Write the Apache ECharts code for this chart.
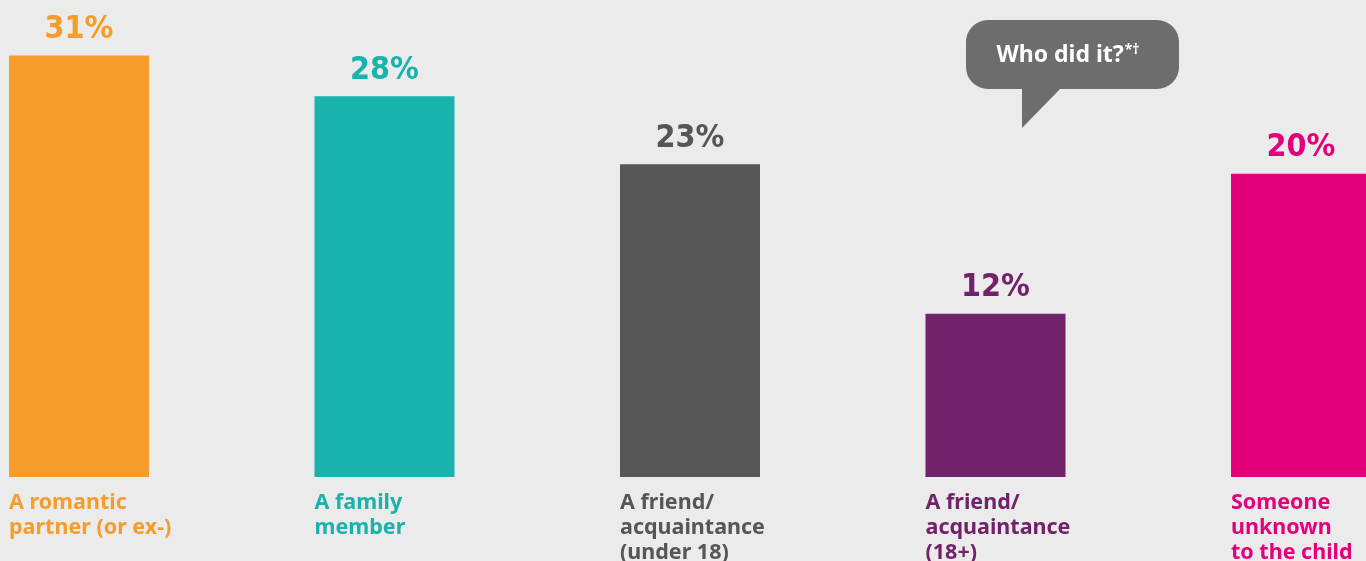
<!DOCTYPE html>
<html>
<head>
<meta charset="utf-8">
<script src="https://cdn.jsdelivr.net/npm/echarts@6/dist/echarts.min.js"></script>
<style>
  html, body { margin: 0; padding: 0; background: #ebebeb; }
  #bar-chart { width: 1366px; height: 561px; }
</style>
</head>
<body>
<div id="bar-chart"></div>
<script>
// categories and values
var categories = [
  'A romantic\npartner (or ex-)',
  'A family\nmember',
  'A friend/\nacquaintance\n(under 18)',
  'A friend/\nacquaintance\n(18+)',
  'Someone\nunknown\nto the child'
];
// bar heights as drawn (the last bar is drawn taller than its 20% label)
var barValues = [31, 28, 23, 12, 22.3];
var valueLabels = ['31%', '28%', '23%', '12%', '20%'];
var barColors = ['#f59d2a', '#17b3ac', '#565656', '#72216b', '#e3007a'];

var chart = echarts.init(document.getElementById('bar-chart'));

var option = {
  backgroundColor: '#ebebeb',
  animation: false,
  grid: {
    left: 79,
    right: 65,
    top: 1,
    bottom: 84
  },
  xAxis: {
    type: 'category',
    data: categories,
    boundaryGap: false,
    axisLine: { show: false },
    axisTick: { show: false },
    axisLabel: { show: false }
  },
  yAxis: {
    type: 'value',
    min: 0,
    max: 35,
    show: false,
    splitLine: { show: false }
  },
  series: [
    {
      // the bars with percent on top
      type: 'bar',
      barWidth: 140,
      data: barValues.map(function (v, i) {
        return {
          value: v,
          itemStyle: { color: barColors[i] },
          label: { color: barColors[i] }
        };
      }),
      label: {
        show: true,
        position: 'top',
        distance: 10,
        fontFamily: '"DejaVu Sans Condensed", "Liberation Sans Narrow", sans-serif',
        fontWeight: 'bold',
        fontSize: 32,
        formatter: function (p) { return valueLabels[p.dataIndex]; }
      }
    },
    {
      // transparent copy, only to put the category names under each bar
      type: 'bar',
      barWidth: 140,
      barGap: '-100%',
      silent: true,
      data: barValues.map(function (v, i) {
        return {
          value: v,
          itemStyle: { color: 'rgba(0,0,0,0)' },
          label: { color: barColors[i] }
        };
      }),
      label: {
        show: true,
        position: [0, '100%'],
        offset: [0, 13],
        align: 'left',
        verticalAlign: 'top',
        fontFamily: '"Noto Sans", sans-serif',
        fontWeight: 'bold',
        fontSize: 21.5,
        lineHeight: 25,
        formatter: function (p) { return categories[p.dataIndex]; }
      }
    }
  ],
  graphic: [
    {
      type: 'rect',
      shape: { x: 966, y: 20, width: 213, height: 69, r: 22 },
      style: { fill: '#6d6d6d' }
    },
    {
      type: 'polygon',
      shape: { points: [[1022, 87], [1062, 87], [1022, 128]] },
      style: { fill: '#6d6d6d' }
    },
    {
      type: 'text',
      x: 1068,
      y: 55,
      style: {
        text: '{a|Who did it?}{b|*†}',
        align: 'center',
        verticalAlign: 'middle',
        rich: {
          a: {
            fontFamily: '"Noto Sans", sans-serif',
            fontWeight: 'bold',
            fontSize: 23,
            fill: '#ffffff'
          },
          b: {
            fontFamily: '"Noto Sans", sans-serif',
            fontWeight: 'bold',
            fontSize: 14,
            fill: '#ffffff',
            padding: [0, 0, 10, 1]
          }
        }
      }
    }
  ]
};

chart.setOption(option, true);
</script>
</body>
</html>
